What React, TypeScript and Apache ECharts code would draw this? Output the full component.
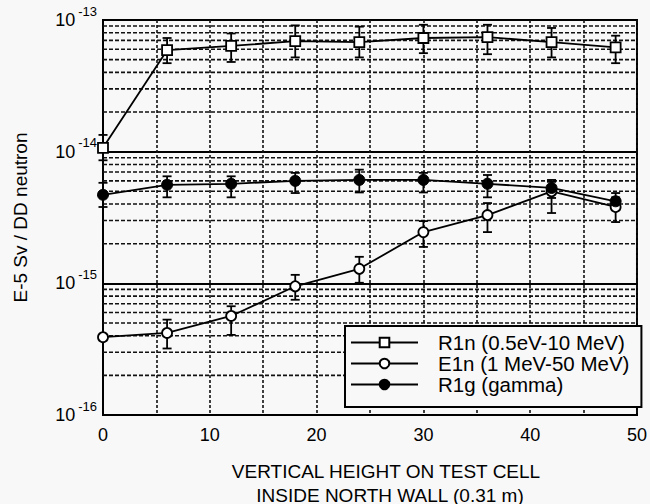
import React, { useEffect, useRef } from "react";
import * as echarts from "echarts";

const heights = [0, 6, 12, 18, 24, 30, 36, 42, 48];
const r1n = [1.07e-14, 5.9e-14, 6.35e-14, 6.9e-14, 6.8e-14, 7.3e-14, 7.4e-14, 6.8e-14, 6.2e-14];
const r1nHi = [1.34e-14, 7.3e-14, 7.9e-14, 9.1e-14, 8.9e-14, 9.2e-14, 9.2e-14, 8.7e-14, 7.6e-14];
const r1nLo = [0.86e-14, 4.7e-14, 4.8e-14, 5.2e-14, 5.2e-14, 5.6e-14, 5.5e-14, 5.2e-14, 4.7e-14];
const e1n = [3.9e-16, 4.2e-16, 5.65e-16, 9.5e-16, 1.29e-15, 2.45e-15, 3.3e-15, 5.0e-15, 3.8e-15];
const e1nHi = [null, 5.3e-16, 6.7e-16, 1.16e-15, 1.59e-15, 2.97e-15, 4.07e-15, 5.9e-15, 4.5e-15];
const e1nLo = [null, 3.2e-16, 4.06e-16, 7.5e-16, 1.01e-15, 1.89e-15, 2.45e-15, 3.42e-15, 2.92e-15];
const r1g = [4.7e-15, 5.6e-15, 5.7e-15, 6.0e-15, 6.1e-15, 6.1e-15, 5.7e-15, 5.3e-15, 4.2e-15];
const r1gHi = [5.8e-15, 6.5e-15, 6.5e-15, 6.9e-15, 7.3e-15, 6.9e-15, 6.65e-15, 6.1e-15, 4.85e-15];
const r1gLo = [3.8e-15, 4.5e-15, 4.5e-15, 4.85e-15, 4.9e-15, 4.9e-15, 4.5e-15, 4.45e-15, 3.6e-15];

const seriesNames = ["R1n (0.5eV-10 MeV)", "E1n (1 MeV-50 MeV)", "R1g (gamma)"];
const decades = [-16, -15, -14];
const minorMultipliers = [2, 3, 4, 5, 6, 7, 8, 9];
const xTicks = [0, 10, 20, 30, 40, 50];
const yAxisTitle = "E-5 Sv / DD neutron";
const xTitle1 = "VERTICAL HEIGHT ON TEST CELL";
const xTitle2 = "INSIDE NORTH WALL (0.31 m)";

const FONT = "'Liberation Sans', Arial, sans-serif";

function pairs(ys: (number | null)[]) {
  return heights.map((h, i) => [h, ys[i]]);
}
function errData(lo: (number | null)[], hi: (number | null)[]) {
  const out: number[][] = [];
  heights.forEach((h, i) => {
    if (lo[i] != null && hi[i] != null) out.push([h, lo[i] as number, hi[i] as number]);
  });
  return out;
}

function errorSeries(data: number[][]) {
  return {
    type: "custom",
    data,
    encode: { x: 0, y: [1, 2] },
    z: 3,
    silent: true,
    renderItem: (params: any, api: any) => {
      const x = api.value(0);
      const pLo = api.coord([x, api.value(1)]);
      const pHi = api.coord([x, api.value(2)]);
      const w = 4.5;
      const st = { stroke: "#000", lineWidth: 1.8 };
      return {
        type: "group",
        children: [
          { type: "line", shape: { x1: pLo[0], y1: pLo[1], x2: pHi[0], y2: pHi[1] }, style: st },
          { type: "line", shape: { x1: pHi[0] - w, y1: pHi[1], x2: pHi[0] + w, y2: pHi[1] }, style: st },
          { type: "line", shape: { x1: pLo[0] - w, y1: pLo[1], x2: pLo[0] + w, y2: pLo[1] }, style: st },
        ],
      };
    },
  };
}

export default function App() {
  const ref = useRef<HTMLDivElement>(null);
  useEffect(() => {
    if (!ref.current) return;
    const chart = echarts.init(ref.current, null, { renderer: "svg" });
    const minorValues: number[][] = [];
    decades.forEach((d) => minorMultipliers.forEach((m) => minorValues.push([0, m * Math.pow(10, d)])));

    const lineBase = {
      type: "line",
      symbolSize: 10,
      lineStyle: { color: "#000", width: 1.8 },
      z: 4,
    };

    chart.setOption({
      animation: false,
      backgroundColor: "#f8f8f8",
      textStyle: { fontFamily: FONT },
      grid: {
        left: 103,
        right: 10,
        top: 20,
        bottom: 89,
        show: true,
        borderColor: "#000",
        borderWidth: 2,
        backgroundColor: "transparent",
      },
      legend: {
        data: seriesNames,
        orient: "vertical",
        left: 345,
        top: 326,
        itemWidth: 67,
        itemHeight: 12,
        itemGap: 0,
        padding: [6, 12, 12, 5],
        backgroundColor: "#f8f8f8",
        borderColor: "#000",
        borderWidth: 2,
        textStyle: { fontSize: 20.5, color: "#000", fontFamily: FONT, padding: [0, 0, 0, 15] },
      },
      xAxis: {
        type: "value",
        min: 0,
        max: 50,
        interval: 5,
        axisLine: { show: true, lineStyle: { color: "#000", width: 2 } },
        axisTick: { show: false },
        axisLabel: {
          margin: 11,
          fontSize: 18,
          color: "#000",
          fontFamily: FONT,
          formatter: (v: number) => (xTicks.includes(v) ? String(v) : ""),
        },
        splitLine: { show: true, lineStyle: { color: "#111", width: 1.6, type: [3, 2] } },
      },
      yAxis: {
        type: "log",
        logBase: 10,
        min: 1e-16,
        max: 1e-13,
        name: yAxisTitle,
        nameLocation: "middle",
        nameGap: 73,
        nameTextStyle: { fontSize: 19, color: "#000", fontFamily: FONT },
        axisLine: { show: true, lineStyle: { color: "#000", width: 2 } },
        axisTick: { show: false },
        axisLabel: {
          margin: 6,
          color: "#000",
          formatter: (v: number) => `{b|10}{s|${Math.round(Math.log10(v))}}`,
          rich: {
            b: { fontSize: 18, color: "#000", fontFamily: FONT },
            s: { fontSize: 13, color: "#000", fontFamily: FONT, padding: [0, 0, 18, 3] },
          },
        },
        splitLine: { show: true, lineStyle: { color: "#000", width: 2 } },
      },
      graphic: [
        {
          type: "text",
          x: 386,
          y: 471,
          style: { text: xTitle1, fontSize: 19, fontFamily: FONT, fill: "#000", align: "center", verticalAlign: "middle" },
        },
        {
          type: "text",
          x: 390,
          y: 495,
          style: { text: xTitle2, fontSize: 19, fontFamily: FONT, fill: "#000", align: "center", verticalAlign: "middle" },
        },
      ],
      series: [
        {
          type: "custom",
          data: minorValues,
          encode: { x: 0, y: 1 },
          silent: true,
          z: 1,
          renderItem: (params: any, api: any) => {
            const cs = params.coordSys;
            const p = api.coord([0, api.value(1)]);
            return {
              type: "line",
              shape: { x1: cs.x, y1: p[1], x2: cs.x + cs.width, y2: p[1] },
              style: { stroke: "#111", lineWidth: 1.6, lineDash: [4, 2] },
            };
          },
        },
        {
          ...lineBase,
          name: seriesNames[0],
          data: pairs(r1n),
          symbol: "rect",
          itemStyle: { color: "#fff", borderColor: "#000", borderWidth: 1.8 },
        },
        {
          ...lineBase,
          name: seriesNames[1],
          data: pairs(e1n),
          symbol: "circle",
          itemStyle: { color: "#fff", borderColor: "#000", borderWidth: 1.8 },
        },
        {
          ...lineBase,
          name: seriesNames[2],
          data: pairs(r1g),
          symbol: "circle",
          symbolSize: 11,
          itemStyle: { color: "#000", borderColor: "#000", borderWidth: 1 },
        },
        errorSeries(errData(r1nLo, r1nHi)),
        errorSeries(errData(e1nLo, e1nHi)),
        errorSeries(errData(r1gLo, r1gHi)),
      ],
    });
    return () => chart.dispose();
  }, []);
  return <div ref={ref} style={{ position: "fixed", left: 0, top: 0, width: 650, height: 504 }} />;
}
